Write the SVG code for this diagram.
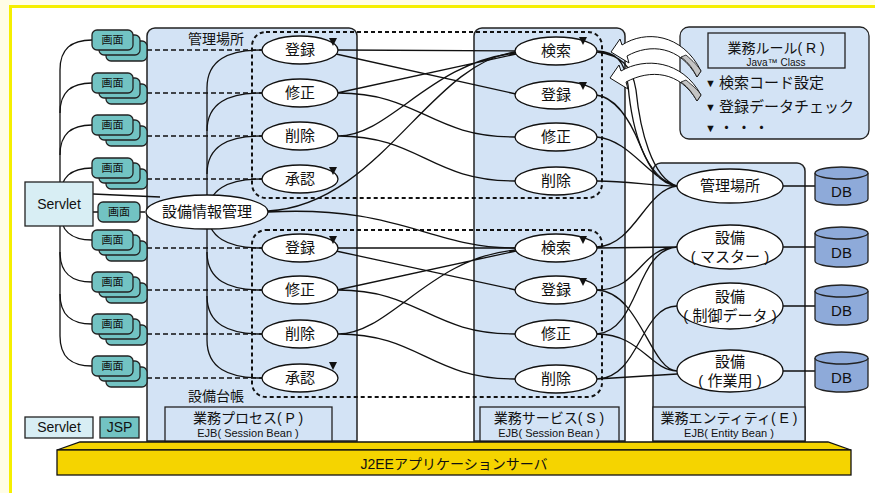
<svg xmlns="http://www.w3.org/2000/svg" xmlns:xlink="http://www.w3.org/1999/xlink" width="875" height="493" viewBox="0 0 875 493">
<style>
.col{fill:#d3e3f5;stroke:#222;stroke-width:1.5}
.ell{fill:#fff;stroke:#111;stroke-width:1.3}
.t{font-family:'Liberation Sans','Noto Sans CJK JP',sans-serif;fill:#111;text-anchor:middle}
.tl{font-family:'Liberation Sans','Noto Sans CJK JP',sans-serif;fill:#111}
.c{fill:none;stroke:#111;stroke-width:1.3}
.dash{fill:none;stroke:#111;stroke-width:1.5;stroke-dasharray:5 3}
.dot{fill:none;stroke:#111;stroke-width:2;stroke-dasharray:4 3}
.stk{fill:#72c3c3;stroke:#222;stroke-width:1.3}
.db{fill:#8eaad9;stroke:#222;stroke-width:1.3}
.box{fill:#d3e3f5;stroke:#222;stroke-width:1.3}
.tri{fill:#111}
</style>
<defs>
<g id="stack">
<rect class="stk" x="14" y="11" width="41" height="20" rx="5"/>
<rect class="stk" x="7" y="5" width="41" height="20" rx="5"/>
<rect class="stk" x="0" y="0" width="41" height="20" rx="5"/>
</g>
</defs>
<rect x="0" y="0" width="875" height="493" fill="#fffde6"/>
<rect x="10.5" y="6.5" width="880" height="500" fill="#fff" stroke="#f5ef00" stroke-width="3"/>

<!-- columns -->
<g id="col-process"><path class="col" d="M147,441 V36 a8,8 0 0 1 8,-8 H349 a8,8 0 0 1 8,8 V441 Z"/></g>
<g id="col-service"><path class="col" d="M474,441 V36 a8,8 0 0 1 8,-8 H617 a8,8 0 0 1 8,8 V441 Z"/></g>
<g id="col-entity"><path class="col" d="M653,441 V171 a8,8 0 0 1 8,-8 H797 a8,8 0 0 1 8,8 V441 Z"/></g>

<g id="labels">
<text class="tl" x="188" y="44" font-size="14">管理場所</text>
<text class="tl" x="188" y="401" font-size="14">設備台帳</text>
</g>

<!-- connectors -->
<g id="connectors">
<!-- servlet to stacks -->
<path class="c" d="M60,70 L60,182 M60,226 L60,336"/>
<path class="c" d="M92,40 C72,40 60,48 60,70 M92,83 C72,83 60,91 60,113 M92,125 C72,125 60,133 60,155 M92,168 C72,168 60,176 60,198"/>
<path class="c" d="M92,240 C72,240 60,232 60,210 M92,282 C72,282 60,274 60,252 M92,324 C72,324 60,316 60,294 M92,366 C72,366 60,358 60,336"/>
<path class="c" d="M93,194 L160,197 M93,212 L98,212"/>
<!-- process spine -->
<path class="c" d="M207,88 L207,340"/>
<path class="c" d="M262,50 C228,50 207,60 207,88 M262,93 C228,93 207,103 207,131 M262,136 C228,136 207,146 207,174 M262,179 C228,179 207,189 207,217"/>
<path class="c" d="M262,248 C228,248 207,238 207,210 M262,290 C228,290 207,280 207,252 M262,334 C228,334 207,324 207,296 M262,378 C228,378 207,368 207,340"/>
<!-- dashed screen links -->
<path class="dash" d="M147,50 L262,50 M147,93 L262,93 M147,136 L262,136 M147,179 L262,179 M147,248 L262,248 M147,290 L262,290 M147,334 L262,334 M147,378 L262,378 M140,212 L147,212"/>
<!-- process to service -->
<path class="c" d="M338,50 L515,51 M336,54 L516,94 M337,93 L516,54 M338,93 C420,93 430,137 515,137 M338,136 C390,136 430,62 516,53 M338,136 C420,136 430,181 515,181"/>
<path class="c" d="M268,211 C380,205 430,62 516,52 M268,212 C400,205 430,248 516,248"/>
<path class="c" d="M338,248 L515,248 M336,251 L516,290 M337,290 L516,251 M338,290 C420,290 430,334 515,334 M338,334 C390,334 430,257 516,250 M338,334 C420,334 430,379 515,379"/>
<!-- service to entity -->
<path class="c" d="M597,51 C615,52 625,60 628,85 C632,130 645,178 677,186 M597,52 C620,55 632,65 636,90 C640,130 652,178 677,186"/>
<path class="c" d="M596,95 C615,97 630,120 640,145 C650,170 660,184 677,186 M597,137 C630,140 650,180 677,186 M597,181 C630,181 650,186 677,186"/>
<path class="c" d="M597,247 C635,245 645,190 677,186 M597,248 L677,247 M597,290 C640,290 640,247 677,247 M597,334 C640,330 635,250 677,247"/>
<path class="c" d="M597,290 C640,292 650,370 677,371 M597,334 C640,334 650,370 677,371 M677,306 C640,306 640,378 597,379 M597,379 L677,374"/>
<!-- entity to DB -->
<path class="c" d="M783,186 L815,186 M783,247 L815,247 M783,306 L815,306 M783,371 L815,371"/>
<!-- dotted groups -->
<rect class="dot" x="252" y="32" width="350" height="166" rx="14"/>
<rect class="dot" x="252" y="230" width="350" height="167" rx="14"/>
</g>

<!-- left nodes -->
<g id="servlet"><rect x="25" y="182" width="68" height="44" fill="#d8eef4" stroke="#222" stroke-width="1.3"/><text class="t" x="59" y="209" font-size="14">Servlet</text></g>
<g id="scr1"><use xlink:href="#stack" x="92" y="30"/><text class="t" x="112.5" y="44" font-size="11">画面</text></g>
<g id="scr2"><use xlink:href="#stack" x="92" y="73"/><text class="t" x="112.5" y="87" font-size="11">画面</text></g>
<g id="scr3"><use xlink:href="#stack" x="92" y="115"/><text class="t" x="112.5" y="129" font-size="11">画面</text></g>
<g id="scr4"><use xlink:href="#stack" x="92" y="158"/><text class="t" x="112.5" y="172" font-size="11">画面</text></g>
<g id="scr5"><rect class="stk" x="98" y="202" width="42" height="20" rx="5"/><text class="t" x="119" y="216" font-size="11">画面</text></g>
<g id="scr6"><use xlink:href="#stack" x="92" y="230"/><text class="t" x="112.5" y="244" font-size="11">画面</text></g>
<g id="scr7"><use xlink:href="#stack" x="92" y="272"/><text class="t" x="112.5" y="286" font-size="11">画面</text></g>
<g id="scr8"><use xlink:href="#stack" x="92" y="314"/><text class="t" x="112.5" y="328" font-size="11">画面</text></g>
<g id="scr9"><use xlink:href="#stack" x="92" y="356"/><text class="t" x="112.5" y="370" font-size="11">画面</text></g>

<!-- process nodes -->
<g id="p-main"><ellipse class="ell" cx="207" cy="212" rx="61" ry="17"/><text class="t" x="207" y="217" font-size="15">設備情報管理</text></g>
<g id="p-reg1"><ellipse class="ell" cx="300" cy="50" rx="38" ry="14"/><text class="t" x="300" y="55" font-size="15">登録</text></g>
<g id="p-mod1"><ellipse class="ell" cx="300" cy="93" rx="38" ry="14"/><text class="t" x="300" y="98" font-size="15">修正</text></g>
<g id="p-del1"><ellipse class="ell" cx="300" cy="136" rx="38" ry="14"/><text class="t" x="300" y="141" font-size="15">削除</text></g>
<g id="p-app1"><ellipse class="ell" cx="300" cy="179" rx="38" ry="14"/><text class="t" x="300" y="184" font-size="15">承認</text></g>
<g id="p-reg2"><ellipse class="ell" cx="300" cy="248" rx="38" ry="14"/><text class="t" x="300" y="253" font-size="15">登録</text></g>
<g id="p-mod2"><ellipse class="ell" cx="300" cy="290" rx="38" ry="14"/><text class="t" x="300" y="295" font-size="15">修正</text></g>
<g id="p-del2"><ellipse class="ell" cx="300" cy="334" rx="38" ry="14"/><text class="t" x="300" y="339" font-size="15">削除</text></g>
<g id="p-app2"><ellipse class="ell" cx="300" cy="378" rx="38" ry="14"/><text class="t" x="300" y="383" font-size="15">承認</text></g>

<!-- service nodes -->
<g id="s-srch1"><ellipse class="ell" cx="556" cy="51" rx="41" ry="14"/><text class="t" x="556" y="56" font-size="15">検索</text></g>
<g id="s-reg1"><ellipse class="ell" cx="556" cy="95" rx="41" ry="14"/><text class="t" x="556" y="100" font-size="15">登録</text></g>
<g id="s-mod1"><ellipse class="ell" cx="556" cy="137" rx="41" ry="14"/><text class="t" x="556" y="142" font-size="15">修正</text></g>
<g id="s-del1"><ellipse class="ell" cx="556" cy="181" rx="41" ry="14"/><text class="t" x="556" y="186" font-size="15">削除</text></g>
<g id="s-srch2"><ellipse class="ell" cx="556" cy="248" rx="41" ry="14"/><text class="t" x="556" y="253" font-size="15">検索</text></g>
<g id="s-reg2"><ellipse class="ell" cx="556" cy="290" rx="41" ry="14"/><text class="t" x="556" y="295" font-size="15">登録</text></g>
<g id="s-mod2"><ellipse class="ell" cx="556" cy="334" rx="41" ry="14"/><text class="t" x="556" y="339" font-size="15">修正</text></g>
<g id="s-del2"><ellipse class="ell" cx="556" cy="379" rx="41" ry="14"/><text class="t" x="556" y="384" font-size="15">削除</text></g>

<!-- small arrowheads -->
<g id="marks">
<polygon class="tri" points="329,38 337,38 333,46"/>
<polygon class="tri" points="329,167 337,167 333,175"/>
<polygon class="tri" points="329,236 337,236 333,244"/>
<polygon class="tri" points="329,362 337,362 333,370"/>
<polygon class="tri" points="579,37 587,37 583,45"/>
<polygon class="tri" points="579,82 587,82 583,90"/>
<polygon class="tri" points="579,236 587,236 583,244"/>
<polygon class="tri" points="579,278 587,278 583,286"/>
</g>

<!-- entity nodes -->
<g id="e-place"><ellipse class="ell" cx="730" cy="186" rx="53" ry="17"/><text class="t" x="730" y="191" font-size="15">管理場所</text></g>
<g id="e-master"><ellipse class="ell" cx="730" cy="247" rx="53" ry="22"/><text class="t" x="730" y="243" font-size="15">設備</text><text class="t" x="730" y="262" font-size="15">( マスター )</text></g>
<g id="e-ctrl"><ellipse class="ell" cx="730" cy="306" rx="53" ry="23"/><text class="t" x="730" y="302" font-size="15">設備</text><text class="t" x="730" y="321" font-size="15">( 制御データ )</text></g>
<g id="e-work"><ellipse class="ell" cx="730" cy="371" rx="53" ry="21"/><text class="t" x="730" y="367" font-size="15">設備</text><text class="t" x="730" y="386" font-size="15">( 作業用 )</text></g>

<!-- DBs -->
<g id="db1"><path class="db" d="M815,173 a26.5,6 0 0 1 53,0 v26 a26.5,6 0 0 1 -53,0 z"/><path class="db" d="M815,173 a26.5,6 0 0 0 53,0"/><text class="t" x="841.5" y="197" font-size="15">DB</text></g>
<g id="db2"><path class="db" d="M815,233 a26.5,6 0 0 1 53,0 v28 a26.5,6 0 0 1 -53,0 z"/><path class="db" d="M815,233 a26.5,6 0 0 0 53,0"/><text class="t" x="841.5" y="258" font-size="15">DB</text></g>
<g id="db3"><path class="db" d="M815,291 a26.5,6 0 0 1 53,0 v28 a26.5,6 0 0 1 -53,0 z"/><path class="db" d="M815,291 a26.5,6 0 0 0 53,0"/><text class="t" x="841.5" y="316" font-size="15">DB</text></g>
<g id="db4"><path class="db" d="M815,358 a26.5,6 0 0 1 53,0 v28 a26.5,6 0 0 1 -53,0 z"/><path class="db" d="M815,358 a26.5,6 0 0 0 53,0"/><text class="t" x="841.5" y="383" font-size="15">DB</text></g>

<!-- rules box -->
<g id="rules">
<rect class="box" x="680" y="27" width="189" height="112" rx="9"/>
<rect class="box" x="708" y="33" width="137" height="35"/>
<text class="t" x="776" y="53" font-size="14">業務ルール( R )</text>
<text class="t" x="776" y="66" font-size="10">Java™ Class</text>
<text class="tl" x="705" y="87" font-size="11">▼</text><text class="tl" x="719" y="88" font-size="15">検索コード設定</text>
<text class="tl" x="705" y="111" font-size="11">▼</text><text class="tl" x="719" y="112" font-size="15">登録データチェック</text>
<text class="tl" x="705" y="132" font-size="11">▼</text><text class="tl" x="719" y="133" font-size="15" letter-spacing="2.5">・・・</text>
</g>

<!-- big hollow arrows -->
<g id="rule-arrows">
<path d="M611,52 L620,39 L622,45 C645,30 682,33 701,71 L697,77 C680,46 650,43 627,56 L629,63 Z" fill="#fff" stroke="#111" stroke-width="1"/>
<path d="M686,55 C693,61 698,66 701,71 L697,77 C693,69 689,63 681,57 Z" fill="#c4c4c4" stroke="#111" stroke-width="0.8"/>
<path d="M610,78 L619,65 L621,71 C645,57 682,60 701,95 L697,101 C680,71 650,69 626,82 L628,89 Z" fill="#fff" stroke="#111" stroke-width="1"/>
<path d="M686,80 C693,86 698,90 701,95 L697,101 C693,94 689,88 681,82 Z" fill="#c4c4c4" stroke="#111" stroke-width="0.8"/>
</g>

<!-- footers -->
<g id="foot-p"><rect class="box" x="165" y="407" width="167" height="34"/><text class="t" x="248" y="423" font-size="14">業務プロセス( P )</text><text class="t" x="248" y="437" font-size="11">EJB( Session Bean )</text></g>
<g id="foot-s"><rect class="box" x="480" y="407" width="139" height="34"/><text class="t" x="549" y="423" font-size="14">業務サービス( S )</text><text class="t" x="549" y="437" font-size="11">EJB( Session Bean )</text></g>
<g id="foot-e"><rect class="box" x="653" y="407" width="152" height="34"/><text class="t" x="729" y="423" font-size="14">業務エンティティ( E )</text><text class="t" x="729" y="437" font-size="11">EJB( Entity Bean )</text></g>

<!-- legend -->
<g id="legend-servlet"><rect x="25" y="417" width="68" height="21" fill="#d8eef4" stroke="#222" stroke-width="1.3"/><text class="t" x="59" y="432" font-size="14">Servlet</text></g>
<g id="legend-jsp"><rect x="100" y="417" width="39" height="21" fill="#72c3c3" stroke="#222" stroke-width="1.3"/><text class="t" x="119.5" y="432" font-size="14">JSP</text></g>

<!-- app server -->
<g id="appserver">
<polygon points="57,450 80,442 828,442 851,450" fill="#f5d400" stroke="#111" stroke-width="1.3"/>
<rect x="57" y="450" width="794" height="25" fill="#f5d400" stroke="#111" stroke-width="1.3"/>
<text class="t" x="454" y="469" font-size="14">J2EEアプリケーションサーバ</text>
</g>
</svg>
